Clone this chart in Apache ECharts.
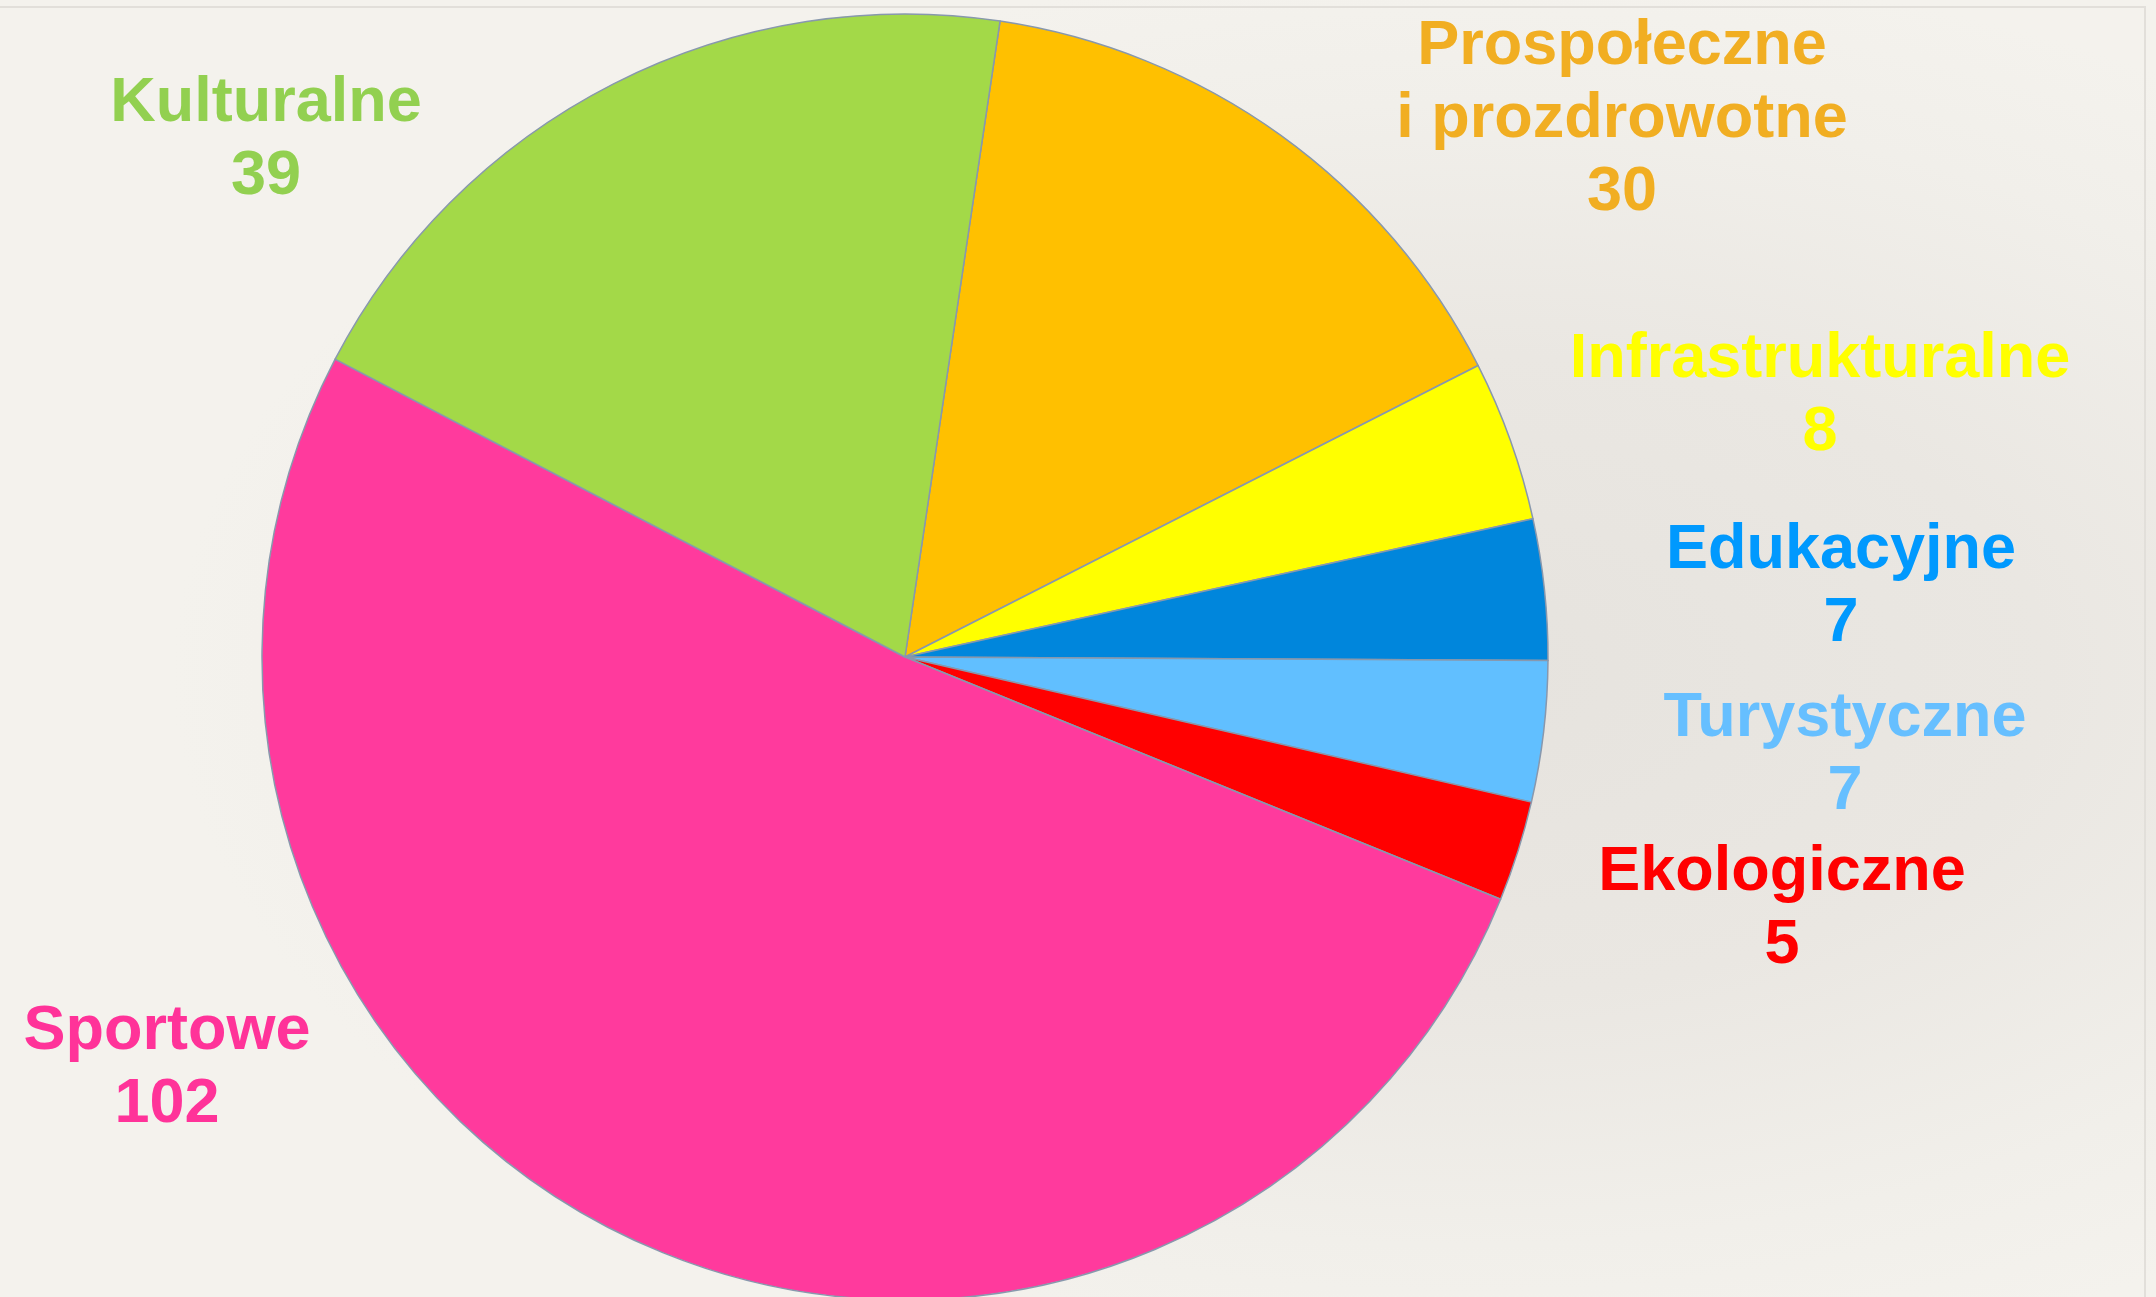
<!DOCTYPE html>
<html>
<head>
<meta charset="utf-8">
<script src="https://cdn.jsdelivr.net/npm/echarts@6/dist/echarts.min.js"></script>
<style>
  html, body { margin: 0; padding: 0; width: 2156px; height: 1297px; overflow: hidden; }
  body {
    background: radial-gradient(ellipse 60% 55% at 68% 52%, #e6e3de 0%, #eae7e2 45%, #f1efea 80%, #f4f2ed 100%);
  }
  #frame {
    position: absolute; left: 0; top: 6px; width: 2146px; height: 1291px;
    border-top: 2px solid #e2dfda; border-right: 2px solid #e2dfda; box-sizing: border-box;
  }
  #chart { position: absolute; left: 0; top: 0; width: 2156px; height: 1297px; }
</style>
</head>
<body>
<div id="frame"></div>
<div id="chart"></div>
<script>
// Data (clockwise order starting just right of 12 o'clock)
const categories = ['Prospołeczne\ni prozdrowotne', 'Infrastrukturalne', 'Edukacyjne', 'Turystyczne', 'Ekologiczne', 'Sportowe', 'Kulturalne'];
const values = [30, 8, 7, 7, 5, 102, 39];

// Styles
const sliceColors = ['#ffc000', '#ffff00', '#0086dc', '#61bfff', '#ff0000', '#ff3a9d', '#a3d948'];
const labelColors = ['#f1ae22', '#ffff00', '#0099fe', '#66bfff', '#ff0000', '#ff3399', '#92d050'];
// Label block positions: [center x, top y]
const labelPos = [[1622, 10], [1820, 323], [1841, 514], [1845, 682], [1782, 836], [167, 995], [266, 67]];

const chart = echarts.init(document.getElementById('chart'), null, { renderer: 'canvas' });
chart.setOption({
  backgroundColor: 'transparent',
  animation: false,
  series: [{
    type: 'pie',
    center: [905, 657],
    radius: 643,
    startAngle: 81.5,
    clockwise: true,
    avoidLabelOverlap: false,
    itemStyle: { borderColor: '#8898ad', borderWidth: 1.5 },
    label: {
      show: true,
      position: 'outside',
      formatter: '{b}\n{c}',
      fontFamily: 'Liberation Sans, Arial, sans-serif',
      fontWeight: 'bold',
      fontSize: 63,
      lineHeight: 73,
      align: 'center'
    },
    labelLine: { show: false },
    emphasis: { disabled: true },
    labelLayout: function (params) {
      const p = labelPos[params.dataIndex];
      return { x: p[0], y: p[1], align: 'center', verticalAlign: 'top' };
    },
    data: categories.map((c, i) => ({
      name: c,
      value: values[i],
      itemStyle: { color: sliceColors[i] },
      label: { color: labelColors[i] }
    }))
  }]
});
</script>
</body>
</html>
